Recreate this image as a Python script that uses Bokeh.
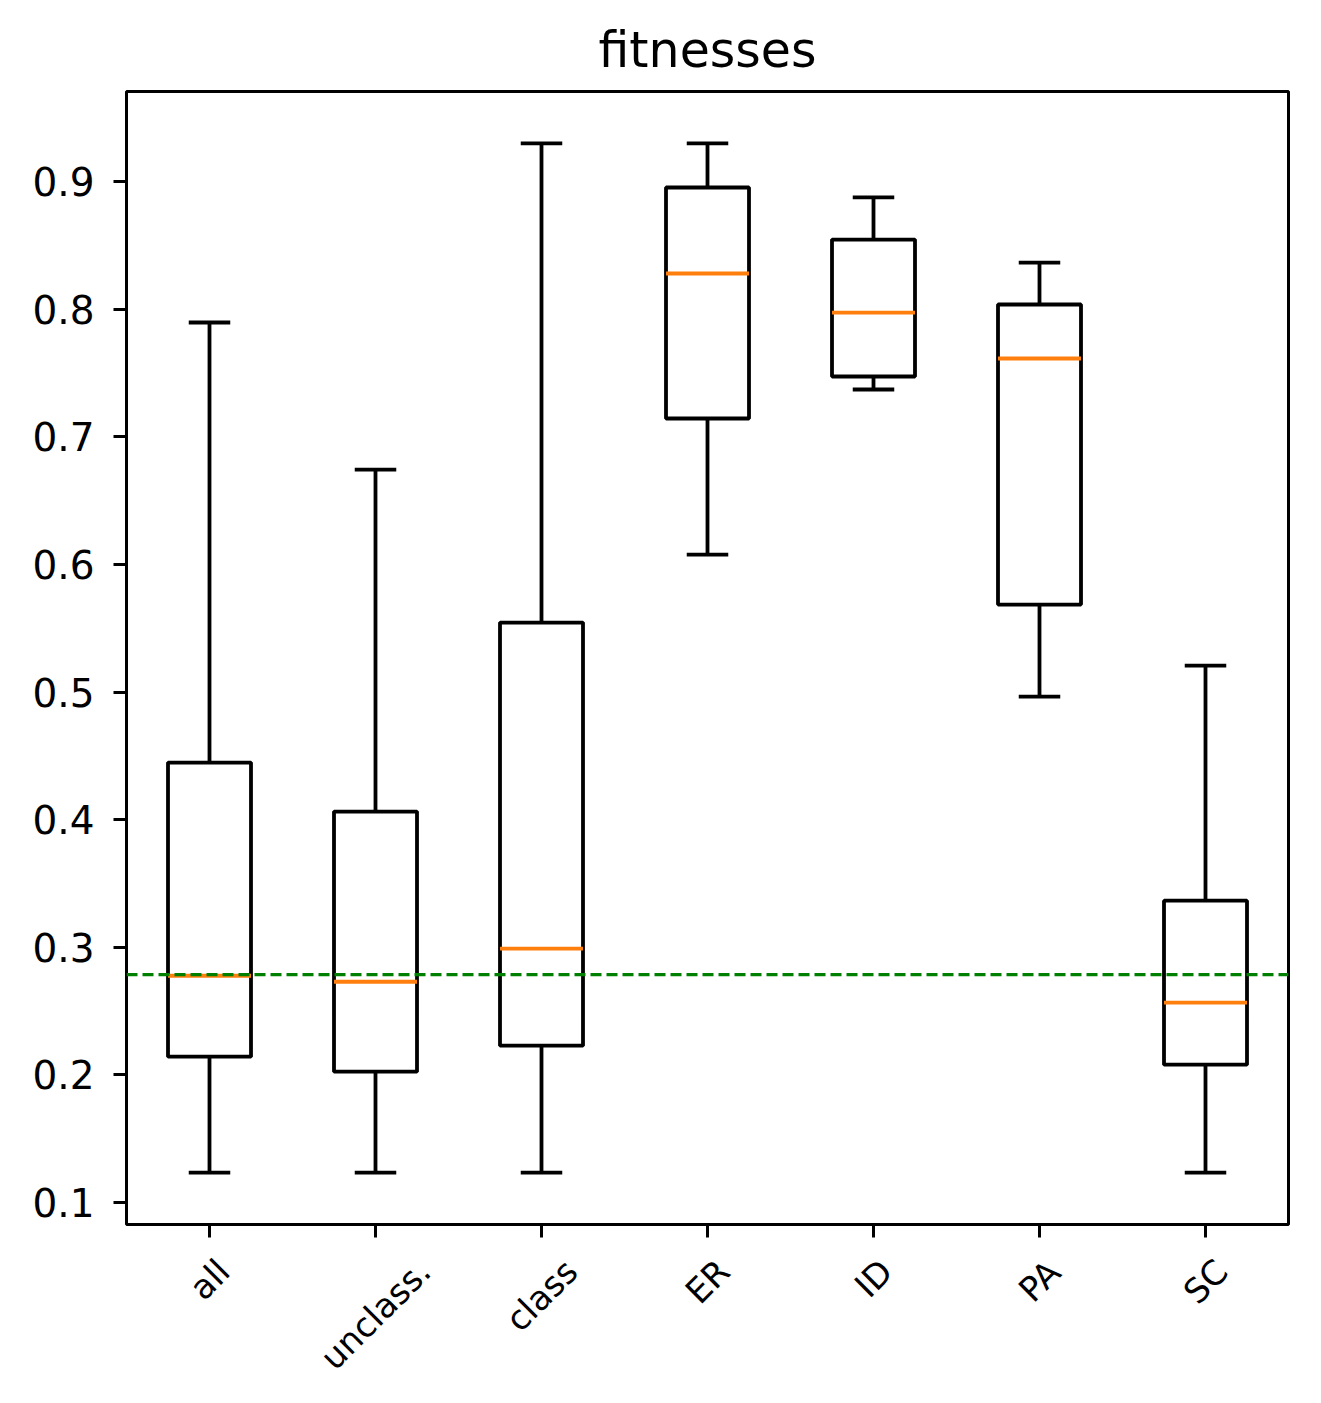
import math
from bokeh.plotting import figure
from bokeh.models import FixedTicker, Range1d, Span
from bokeh.core.properties import value
from bokeh.embed import file_html
from bokeh.resources import INLINE

categories = ["all", "unclass.", "class", "ER", "ID", "PA", "SC"]
whisker_low = [0.1234, 0.1234, 0.1234, 0.6077, 0.7370, 0.4964, 0.1234]
q1 = [0.2143, 0.2025, 0.2229, 0.7143, 0.7472, 0.5685, 0.2080]
median = [0.2777, 0.2730, 0.2989, 0.8279, 0.7973, 0.7613, 0.2566]
q3 = [0.4447, 0.4063, 0.5544, 0.8953, 0.8545, 0.8036, 0.3365]
whisker_high = [0.7895, 0.6743, 0.9298, 0.9298, 0.8875, 0.8365, 0.5207]
baseline = 0.2785
y_ticks = [0.1, 0.2, 0.3, 0.4, 0.5, 0.6, 0.7, 0.8, 0.9]

FONT = "DejaVu Sans"
positions = list(range(1, len(categories) + 1))
box_half = 0.25
cap_half = 0.125
W, H = 1313, 1395
BL, BR, BT, BB = 126, 25, 91, 171
Y0, Y1 = 0.0828, 0.9705

p = figure(width=W, height=H, output_backend="svg", toolbar_location=None,
           x_range=Range1d(0.5, len(categories) + 0.5), y_range=Range1d(Y0, Y1),
           title="fitnesses", min_border_left=BL, min_border_right=BR,
           min_border_top=BT, min_border_bottom=BB)
p.title.text_font = FONT
p.title.text_font_size = "49px"
p.title.text_font_style = "normal"
p.title.text_color = "black"
p.title.align = "center"
p.title.standoff = 26

p.xgrid.visible = False
p.ygrid.visible = False
p.outline_line_color = "black"
p.outline_line_width = 3
p.background_fill_color = "white"
p.border_fill_color = "white"

for ax in (p.xaxis[0], p.yaxis[0]):
    ax.axis_line_color = None
    ax.major_tick_line_width = 3
    ax.major_tick_line_color = "black"
    ax.major_tick_out = 13
    ax.major_tick_in = 0
    ax.minor_tick_line_color = None
    ax.major_label_text_font = FONT
    ax.major_label_text_color = "black"
    ax.major_label_standoff = 14

p.yaxis.ticker = FixedTicker(ticks=y_ticks)
p.yaxis.major_label_text_font_size = "39px"
p.yaxis.major_label_standoff = 19
p.yaxis.major_label_overrides = {t: f"{t:.1f}" for t in y_ticks}

p.xaxis.ticker = FixedTicker(ticks=positions)
p.xaxis.major_label_overrides = {pos: "" for pos in positions}
p.xaxis.major_label_text_font_size = "34px"

# boxes, whiskers, caps
p.quad(left=[x - box_half for x in positions], right=[x + box_half for x in positions],
       bottom=q1, top=q3, fill_color=None, line_color="black", line_width=3.8)
p.segment(x0=positions, x1=positions, y0=q3, y1=whisker_high, line_color="black", line_width=3.8)
p.segment(x0=positions, x1=positions, y0=q1, y1=whisker_low, line_color="black", line_width=3.8)
p.segment(x0=[x - cap_half for x in positions], x1=[x + cap_half for x in positions],
          y0=whisker_high, y1=whisker_high, line_color="black", line_width=3.8)
p.segment(x0=[x - cap_half for x in positions], x1=[x + cap_half for x in positions],
          y0=whisker_low, y1=whisker_low, line_color="black", line_width=3.8)
# reference line
p.add_layout(Span(location=baseline, dimension="width", line_color="green",
                  line_width=3.2, line_dash="11 5"))
# medians
p.segment(x0=[x - box_half for x in positions], x1=[x + box_half for x in positions],
          y0=median, y1=median, line_color="#ff7f0e", line_width=3.8)

# rotated category labels, centred under their ticks (matplotlib style)
char_w = {"a": 0.613, "l": 0.278, "u": 0.634, "n": 0.634, "c": 0.55, "s": 0.521,
          ".": 0.318, "E": 0.632, "R": 0.695, "I": 0.295, "D": 0.770, "P": 0.603,
          "A": 0.684, "S": 0.635, "C": 0.698}
fs = 34
frame_h = H - BT - BB
scale = frame_h / (Y1 - Y0)
label_y = []
for cat in categories:
    w = sum(char_w.get(ch, 0.6) for ch in cat) * fs
    h = 1.16 * fs
    offset = 13 + 14 + (w + h) * math.sqrt(0.5) / 2
    label_y.append(Y0 - offset / scale)
r = p.text(x=positions, y=label_y, text=categories, angle=math.pi / 4,
           text_align="center", text_baseline="middle", text_font=value(FONT),
           text_font_size=f"{fs}px", text_color="black")
r.level = "overlay"

open("out.html", "w").write(file_html(p, INLINE))
